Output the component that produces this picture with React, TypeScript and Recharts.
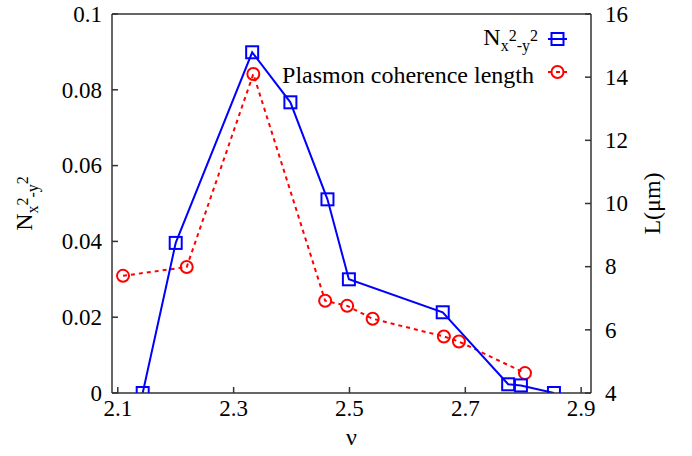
import React from 'react';
import {
  ComposedChart,
  Line,
  XAxis,
  YAxis,
  ReferenceLine,
} from 'recharts';

// ---- data ----
const nuBlue = [2.143, 2.2, 2.332, 2.398, 2.462, 2.499, 2.661, 2.774, 2.796, 2.853];
const nValues = [0, 0.0396, 0.0899, 0.0767, 0.0511, 0.030, 0.0213, 0.0023, 0.002, 0];
const nuRed = [2.109, 2.219, 2.334, 2.458, 2.496, 2.54, 2.663, 2.689, 2.803];
const lValues = [7.71, 7.99, 14.1, 6.92, 6.76, 6.35, 5.79, 5.63, 4.63];

const xTicks = [2.1, 2.3, 2.5, 2.7, 2.9];
const leftTicks = [0, 0.02, 0.04, 0.06, 0.08, 0.1];
const rightTicks = [4, 6, 8, 10, 12, 14, 16];

const blueData = nuBlue.map((nu, i) => ({ nu, v: nValues[i] }));
const redData = nuRed.map((nu, i) => ({ nu, v: lValues[i] }));

const FONT = 'Liberation Serif, Tinos, Times New Roman, Times, DejaVu Serif, serif';
const AXIS = '#333';
const BLUE = '#0000ff';
const RED = '#ff0000';
const TICK_LEN = 6;

// ---- ticks (drawn inward, gnuplot style) ----
const LeftTick = (props: any) => {
  const { x, y, payload } = props;
  const ax = x + 10;
  return (
    <g>
      <line x1={ax} x2={ax + TICK_LEN} y1={y} y2={y} stroke={AXIS} strokeWidth={1.5} />
      <text x={x} y={y} dy="0.34em" textAnchor="end" style={{ fontFamily: FONT }} fontSize={23} fill="#000">
        {String(payload.value)}
      </text>
    </g>
  );
};

const RightTick = (props: any) => {
  const { x, y, payload } = props;
  const ax = x - 14;
  return (
    <g>
      <line x1={ax} x2={ax - TICK_LEN} y1={y} y2={y} stroke={AXIS} strokeWidth={1.5} />
      <text x={x} y={y} dy="0.34em" textAnchor="start" style={{ fontFamily: FONT }} fontSize={23} fill="#000">
        {String(payload.value)}
      </text>
    </g>
  );
};

const BottomTick = (props: any) => {
  const { x, y, payload } = props;
  return (
    <g>
      <line x1={x} x2={x} y1={y} y2={y - TICK_LEN} stroke={AXIS} strokeWidth={1.5} />
      <text x={x} y={y + 23} textAnchor="middle" style={{ fontFamily: FONT }} fontSize={23} fill="#000">
        {String(payload.value)}
      </text>
    </g>
  );
};

// ---- markers ----
const Square = (props: any) => {
  const { cx, cy, index } = props;
  if (cx == null || cy == null) return <g key={index} />;
  return <rect key={index} x={cx - 6} y={cy - 6} width={12} height={12} fill="none" stroke={BLUE} strokeWidth={2} />;
};

const Circle = (props: any) => {
  const { cx, cy, index } = props;
  if (cx == null || cy == null) return <g key={index} />;
  return <circle key={index} cx={cx} cy={cy} r={6} fill="none" stroke={RED} strokeWidth={2} />;
};

// N_{x^2-y^2} as tspans
const NText = ({ x, y, size, anchor, transform }: any) => {
  const s = Math.round(size * 0.68);
  return (
    <text x={x} y={y} style={{ fontFamily: FONT }} fontSize={size} fill="#000" textAnchor={anchor} transform={transform}>
      <tspan>N</tspan>
      <tspan fontSize={s} dy={6}>x</tspan>
      <tspan fontSize={s} dy={-10}>2</tspan>
      <tspan fontSize={s} dy={10}>-y</tspan>
      <tspan fontSize={s} dy={-10}>2</tspan>
    </text>
  );
};

const LeftLabel = (props: any) => {
  const vb = props.viewBox;
  const cx = vb.x + 32;
  const cy = vb.y + vb.height / 2;
  return <NText x={cx} y={cy} size={24} anchor="middle" transform={`rotate(-90, ${cx}, ${cy})`} />;
};

const RightLabel = (props: any) => {
  const vb = props.viewBox;
  const cx = vb.x + 69;
  const cy = vb.y + vb.height / 2;
  return (
    <text x={cx} y={cy} style={{ fontFamily: FONT }} fontSize={24} fill="#000" textAnchor="middle"
      transform={`rotate(-90, ${cx}, ${cy})`}>
      L(μm)
    </text>
  );
};

const BottomLabel = (props: any) => {
  const vb = props.viewBox;
  return (
    <text x={vb.x + vb.width / 2} y={vb.y + 52} style={{ fontFamily: FONT }} fontSize={24} fill="#000" textAnchor="middle">
      ν
    </text>
  );
};

// ---- legend (top right, inside the box) ----
const LegendOverlay = () => (
  <svg width={692} height={456} style={{ position: 'absolute', left: 0, top: 0, pointerEvents: 'none' }}>
    <NText x={538} y={45} size={24} anchor="end" />
    <line x1={548} x2={567} y1={39} y2={39} stroke={BLUE} strokeWidth={2} />
    <rect x={551.5} y={33} width={12} height={12} fill="none" stroke={BLUE} strokeWidth={2} />
    <text x={534} y={83} style={{ fontFamily: FONT }} fontSize={24} fill="#000" textAnchor="end">
      Plasmon coherence length
    </text>
    <line x1={548} x2={567} y1={72} y2={72} stroke={RED} strokeWidth={2} strokeDasharray="4 4" />
    <circle cx={557.5} cy={72} r={6} fill="none" stroke={RED} strokeWidth={2} />
  </svg>
);

export default function App() {
  return (
    <div style={{ position: 'absolute', left: 0, top: 0, width: 692, height: 456, background: '#fff' }}>
      <ComposedChart width={692} height={456} margin={{ top: 14, right: 0, bottom: 0, left: 0 }}>
        <XAxis
          type="number"
          dataKey="nu"
          domain={[2.09, 2.917]}
          ticks={xTicks}
          allowDataOverflow
          interval={0}
          height={63}
          tickSize={0}
          tickMargin={0}
          tick={<BottomTick />}
          axisLine={{ stroke: AXIS, strokeWidth: 1.5 }}
          label={<BottomLabel />}
        />
        <YAxis
          yAxisId="n"
          orientation="left"
          type="number"
          domain={[0, 0.1]}
          ticks={leftTicks}
          allowDataOverflow
          interval={0}
          width={112}
          tickSize={0}
          tickMargin={10}
          tick={<LeftTick />}
          axisLine={{ stroke: AXIS, strokeWidth: 1.5 }}
          label={<LeftLabel />}
        />
        <YAxis
          yAxisId="l"
          orientation="right"
          type="number"
          domain={[4, 16]}
          ticks={rightTicks}
          allowDataOverflow
          interval={0}
          width={101}
          tickSize={0}
          tickMargin={14}
          tick={<RightTick />}
          axisLine={{ stroke: AXIS, strokeWidth: 1.5 }}
          label={<RightLabel />}
        />
        <ReferenceLine yAxisId="n" y={0.1} stroke={AXIS} strokeWidth={1.5} />
        <Line
          yAxisId="l"
          data={redData}
          dataKey="v"
          type="linear"
          stroke={RED}
          strokeWidth={2}
          strokeDasharray="4 4"
          dot={<Circle />}
          isAnimationActive={false}
        />
        <Line
          yAxisId="n"
          data={blueData}
          dataKey="v"
          type="linear"
          stroke={BLUE}
          strokeWidth={2}
          dot={<Square />}
          isAnimationActive={false}
        />
      </ComposedChart>
      <LegendOverlay />
    </div>
  );
}
